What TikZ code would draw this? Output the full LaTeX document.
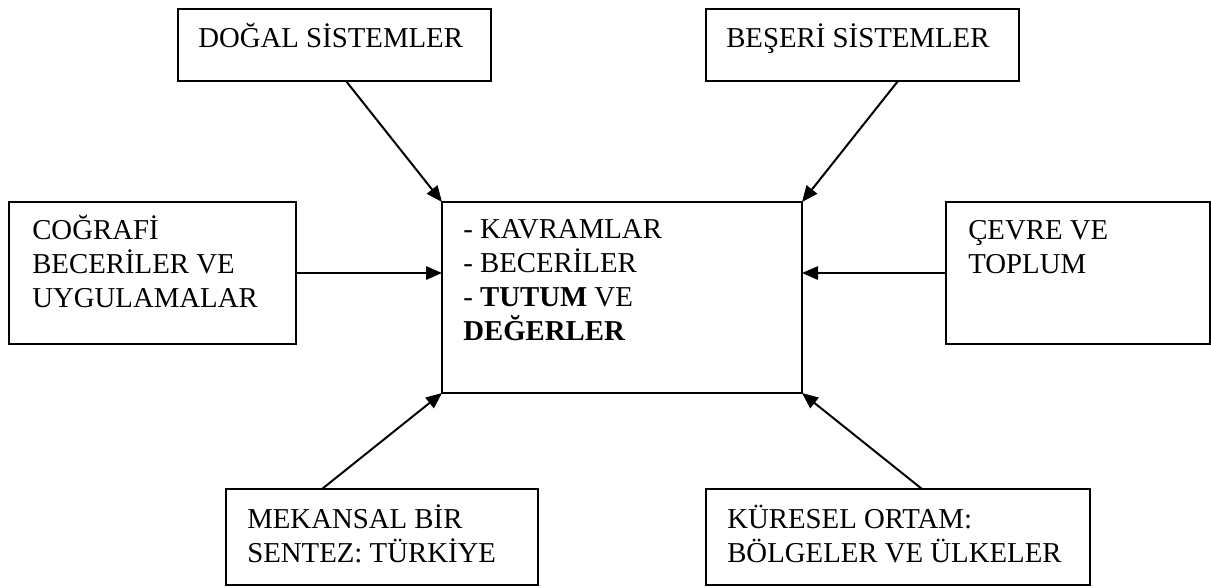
\documentclass[tikz,border=0pt]{standalone}
\usepackage{fontspec}
\setmainfont{Liberation Serif}
\usetikzlibrary{arrows.meta,calc}
\begin{document}
\begin{tikzpicture}[x=0.75pt,y=-0.75pt,
  box/.style 2 args={draw, line width=0.9pt, minimum width=#1*0.75pt, minimum height=#2*0.75pt, anchor=north west, inner sep=0pt, outer sep=0pt},
  txt/.style={anchor=base west, align=left, inner sep=0pt, font=\fontsize{21.6}{25.3}\selectfont},
  arr/.style={line width=1.5pt, -{Triangle[length=12pt,width=10pt]}}]
\useasboundingbox (0,0) rectangle (1211,587);
\node[box={313}{72}] (dogal) at (178,9) {};
\node[box={313}{72}] (beseri) at (706,9) {};
\node[box={287}{142}] (cografi) at (9,202) {};
\node[box={360}{191}] (c) at (442,202) {};
\node[box={264}{142}] (cevre) at (946,202) {};
\node[box={312}{96}] (mekansal) at (226,489) {};
\node[box={384}{96}] (kuresel) at (706,489) {};

% base anchor = baseline of the last line
\node[txt] (t1) at (198,47) {DOĞAL SİSTEMLER};
\node[txt] (t2) at (726,47) {BEŞERİ SİSTEMLER};
\node[txt] (t3) at (32,307) {COĞRAFİ\\BECERİLER VE\\UYGULAMALAR};
\node[txt] (t4) at (463,340) {- KAVRAMLAR\\- BECERİLER\\- \textbf{TUTUM} VE\\\textbf{DEĞERLER}};
\node[txt] (t5) at (968,273) {ÇEVRE VE\\TOPLUM};
\node[txt] (t6) at (247,562) {MEKANSAL BİR\\SENTEZ: TÜRKİYE};
\node[txt] (t7) at (727,562) {KÜRESEL ORTAM:\\BÖLGELER VE ÜLKELER};

\draw[arr] ($(dogal.south)+(11.5,0)$) -- (c.north west);
\draw[arr] ($(beseri.south)+(35.5,0)$) -- (c.north east);
\draw[arr] (cografi.east) -- (cografi.east -| c.west);
\draw[arr] (cevre.west) -- (cevre.west -| c.east);
\draw[arr] ($(mekansal.north)+(-60,0)$) -- (c.south west);
\draw[arr] ($(kuresel.north)+(24,0)$) -- (c.south east);
\end{tikzpicture}
\end{document}
